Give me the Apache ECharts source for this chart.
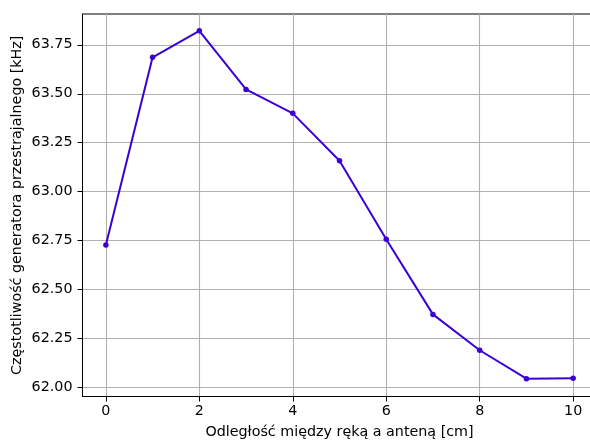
<!DOCTYPE html>
<html>
<head>
<meta charset="utf-8">
<script src="https://cdn.jsdelivr.net/npm/echarts@6/dist/echarts.min.js"></script>
<style>
  html, body { margin: 0; padding: 0; background: #ffffff; }
  #chart { width: 590px; height: 442px; }
</style>
</head>
<body>
<div id="chart"></div>
<script>
// Distance between hand and antenna [cm]
const distances = [0, 1, 2, 3, 4, 5, 6, 7, 8, 9, 10];
// Tunable oscillator frequency [kHz]
const frequencies = [62.728, 63.686, 63.821, 63.522, 63.400, 63.158, 62.757, 62.374, 62.191, 62.046, 62.048];
// Tick positions
const xTicks = [0, 2, 4, 6, 8, 10];
const yTicks = [62.00, 62.25, 62.50, 62.75, 63.00, 63.25, 63.50, 63.75];

const xName = 'Odległość między ręką a anteną [cm]';
const yName = 'Częstotliwość generatora przestrajalnego [kHz]';

const FONT = 'DejaVu Sans';
const FS = 14.3;
const chart = echarts.init(document.getElementById('chart'), null, { renderer: 'canvas' });

chart.setOption({
  animation: false,
  backgroundColor: '#ffffff',
  grid: {
    left: 82.5,
    top: 14,
    width: 514,
    height: 382.5,
    outerBoundsMode: 'none',
    containLabel: false,
    show: true,
    borderColor: '#000000',
    borderWidth: 1,
    backgroundColor: 'transparent'
  },
  xAxis: {
    type: 'value',
    min: -0.5,
    max: 10.5,
    name: xName,
    nameLocation: 'middle',
    nameGap: 29,
    nameMoveOverlap: false,
    nameTextStyle: { fontFamily: FONT, fontSize: FS, color: '#000' },
    axisLine: { show: true, onZero: false, lineStyle: { color: '#000', width: 1 } },
    axisTick: { show: true, inside: false, length: 5, customValues: xTicks, lineStyle: { color: '#000', width: 1 } },
    axisLabel: { customValues: xTicks, margin: 8, fontFamily: FONT, fontSize: FS, color: '#000', formatter: v => String(v) },
    splitLine: { show: true, lineStyle: { color: '#b0b0b0', width: 1.1 } }
  },
  yAxis: {
    type: 'value',
    min: 61.955,
    max: 63.907,
    name: yName,
    nameLocation: 'middle',
    nameGap: 58,
    nameMoveOverlap: false,
    nameTextStyle: { fontFamily: FONT, fontSize: FS, color: '#000' },
    axisLine: { show: true, onZero: false, lineStyle: { color: '#000', width: 1 } },
    axisTick: { show: true, inside: false, length: 5, customValues: yTicks, lineStyle: { color: '#000', width: 1 } },
    axisLabel: { customValues: yTicks, margin: 10, fontFamily: FONT, fontSize: FS, color: '#000', formatter: v => v.toFixed(2) },
    splitLine: { show: true, lineStyle: { color: '#b0b0b0', width: 1.1 } }
  },
  series: [{
    type: 'line',
    data: distances.map((d, i) => [d, frequencies[i]]),
    symbol: 'circle',
    symbolSize: 5.5,
    showSymbol: true,
    itemStyle: { color: '#3b00d6' },
    lineStyle: { color: '#3b00d6', width: 2 },
    z: 3
  }]
});
</script>
</body>
</html>
